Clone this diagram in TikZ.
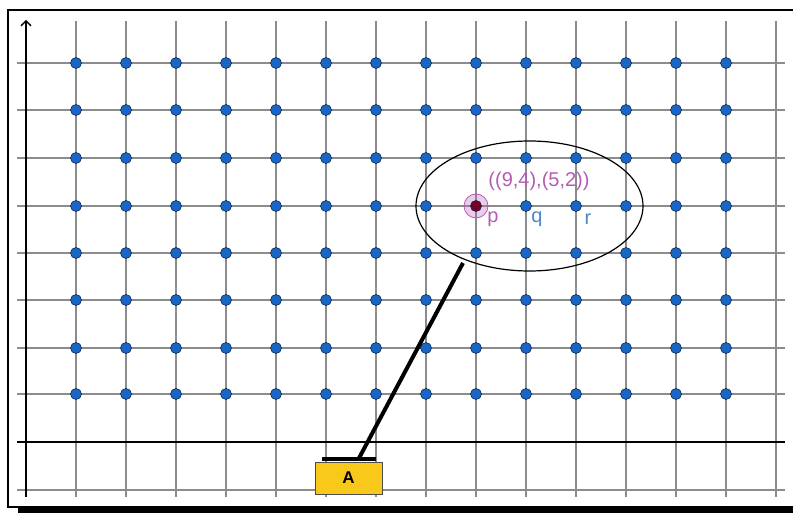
\documentclass[tikz,border=0pt]{standalone}
\usepackage{fontspec}
\setmainfont{Liberation Sans}
\usetikzlibrary{shapes.geometric,arrows.meta}
\definecolor{dotblue}{HTML}{1A66C4}
\definecolor{dotedge}{HTML}{0D2A55}
\definecolor{gridgray}{HTML}{8C8C8C}
\definecolor{lblpurple}{HTML}{B45CB4}
\definecolor{lblblue}{HTML}{4A86C8}
\definecolor{boxyellow}{HTML}{F8C81A}
\tikzset{
  gridline/.style={draw=gridgray, line width=1.3pt},
  axisline/.style={draw=black, line width=1.3pt},
  latdot/.style={circle, fill=dotblue, draw=dotedge, line width=0.6pt, inner sep=0pt, minimum size=11pt},
  lbl/.style={font=\fontsize{20}{22}\selectfont, inner sep=0pt},
  abox/.style={draw=black!70, fill=boxyellow, line width=0.6pt, minimum width=67pt, minimum height=32pt, inner sep=0pt, font=\bfseries\fontsize{17}{19}\selectfont},
}
\begin{document}
\begin{tikzpicture}[x=1pt,y=-1pt]
\useasboundingbox (0,0) rectangle (793,513);
% frame
\draw[line width=1.2pt] (793,10) -- (8,10) -- (8,507) -- (18,507);
\fill (18,506) rectangle (793,513);
% grid
\foreach \gx in {76,126,...,776} \draw[gridline] (\gx,21) -- (\gx,497);
\foreach \gy in {63,110,158,206,253,300,348,394,490} \draw[gridline] (17,\gy) -- (785,\gy);
% axes
\draw[axisline] (17,442) -- (785,442);
\draw[axisline, -{Straight Barb[length=5pt,width=10pt]}] (26,497) -- (26,20);
% dots
\foreach [count=\i] \gy in {63,110,158,206,253,300,348,394}
  \foreach [count=\j] \gx in {76,126,...,726}
    \node[latdot] (d-\i-\j) at (\gx,\gy) {};
% highlighted point
\node[circle, fill=lblpurple, fill opacity=0.3, draw=lblpurple, line width=0.8pt, minimum size=24pt, inner sep=0pt] (hl) at (d-4-9) {};
\node[circle, fill=purple!60!black, draw=dotedge, inner sep=0pt, minimum size=11pt] (pt) at (d-4-9) {};
% ellipse
\node[ellipse, draw=black, line width=1.2pt, minimum width=227pt, minimum height=130pt, inner sep=0pt] (ell) at (529.5,206) {};
% labels
\node[lbl, text=lblpurple] (coordlbl) at (539,181) {((9,4),(5,2))};
\node[lbl, text=lblpurple] (plbl) at (493,219) {p};
\node[lbl, text=lblblue] (qlbl) at (537,219) {q};
\node[lbl, text=lblblue] (rlbl) at (588,219) {r};
% box A
\node[abox] (boxA) at (348.5,478) {A};
\coordinate (barL) at (322,459);
\coordinate (barR) at (376,459);
\coordinate (barP) at (358,460);
\coordinate (ellP) at (463,263);
\draw[line width=4pt] (barL) -- (barR);
\draw[line width=4pt] (ellP) -- (barP);
\end{tikzpicture}
\end{document}
